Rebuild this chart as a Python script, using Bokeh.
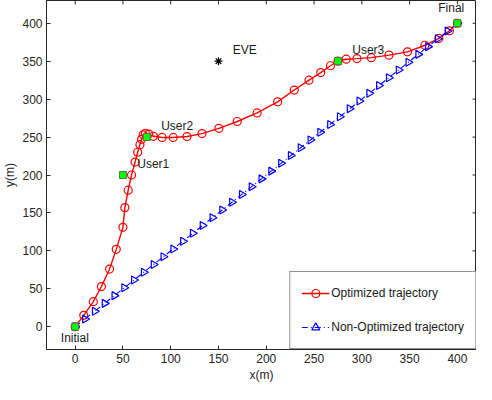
import math
from bokeh.plotting import figure
from bokeh.models import Legend, LegendItem, Range1d, ColumnDataSource, FixedTicker
from bokeh.core.properties import value
from bokeh.embed import file_html
from bokeh.resources import INLINE

# ---- data ----
opt_x = [0, 9, 19, 27.5, 36, 43, 50, 52, 55.5, 59, 62.7, 65.4, 67.8, 69.5, 71.2, 73.5, 77, 82,
         91, 102.6, 117, 132.7, 150.4, 169.6, 190.4, 211.9, 229.3, 244.7, 257, 267.2, 275,
         283.6, 294.9, 310, 328.4, 347.8, 366, 380.6, 391.6, 400]
opt_y = [0, 15, 33, 53, 76, 102, 131, 157, 180, 200, 217, 230, 240, 247, 253, 255, 254, 251,
         249.5, 249.5, 250.7, 254.6, 261.5, 270.5, 281.8, 296.4, 312, 325, 335, 344, 350,
         352.6, 353.4, 354.7, 358, 362.3, 371, 380, 390, 400]

non_x = [0, 10.3, 20.5, 30.8, 41.0, 51.3, 61.5, 71.8, 82.1, 92.3, 102.6, 112.8, 123.1, 133.3,
         143.6, 153.8, 164.1, 174.4, 184.6, 194.9, 205.1, 215.4, 225.6, 235.9, 246.2, 256.4,
         266.7, 276.9, 287.2, 297.4, 307.7, 317.9, 328.2, 338.5, 348.7, 359.0, 369.2, 379.5,
         389.7, 400.0]
non_y = list(non_x)

node_x = [0, 50, 75, 275, 400]
node_y = [0, 200, 250, 350, 400]

eve_x = [150]
eve_y = [350]

label_text = ["Initial", "User1", "User2", "User3", "Final", "EVE"]
label_x = [-15, 65, 90, 290, 380, 165]
label_y = [-15, 215, 265, 365, 420, 365]

ticks = [0, 50, 100, 150, 200, 250, 300, 350, 400]
x_lim = [-30, 420]
y_lim = [-30, 430]

FONT = "Liberation Sans"
AX = "#262626"
FS = "12px"

p = figure(width=476, height=384, output_backend="svg", toolbar_location=None,
           x_range=Range1d(*x_lim), y_range=Range1d(*y_lim),
           min_border_left=0, min_border_right=0, min_border_top=0, min_border_bottom=0,
           x_axis_label="x(m)", y_axis_label="y(m)")
p.grid.visible = False
p.outline_line_color = AX
p.outline_line_width = 1
p.background_fill_color = "white"
p.border_fill_color = "white"

for ax in list(p.xaxis) + list(p.yaxis):
    ax.ticker = FixedTicker(ticks=ticks)
    ax.major_tick_in = 4
    ax.major_tick_out = 0
    ax.minor_tick_line_color = None
    ax.axis_line_color = AX
    ax.major_tick_line_color = AX
    ax.major_label_text_font = FONT
    ax.axis_label_text_font = FONT
    ax.axis_label_text_font_style = "normal"
    ax.axis_label_text_color = AX
    ax.major_label_text_color = AX
    ax.axis_label_text_font_size = FS
    ax.major_label_text_font_size = FS
    ax.major_label_standoff = 4
    ax.axis_label_standoff = 2

# mirror ticks on top and right edges (box on)
tick_len_y = 4 / 0.77
tick_len_x = 4 / 0.97
n = len(ticks)
p.segment(x0=ticks, y0=[y_lim[1]] * n, x1=ticks, y1=[y_lim[1] - tick_len_y] * n,
          line_color=AX, line_width=1)
p.segment(x0=[x_lim[1]] * n, y0=ticks, x1=[x_lim[1] - tick_len_x] * n, y1=ticks,
          line_color=AX, line_width=1)

opt_src = ColumnDataSource(dict(x=opt_x, y=opt_y))
non_src = ColumnDataSource(dict(x=non_x, y=non_y))

r_line = p.line("x", "y", source=opt_src, line_color="#ff0000", line_width=1.4)
r_mark = p.scatter("x", "y", source=opt_src, marker="circle", size=8,
                   fill_color=None, line_color="#ff0000", line_width=1.2)

b_line = p.line("x", "y", source=non_src, line_color="#0000ff", line_width=1.1,
                line_dash="6 3 1 3")
b_mark = p.scatter("x", "y", source=non_src, marker="triangle", size=8, angle=-math.pi / 2,
                   fill_color=None, line_color="#0000ff", line_width=1.2)

p.scatter(node_x, node_y, marker="square", size=7, fill_color="#00ff00",
          line_color="#4a7a4a", line_width=1)
p.scatter(eve_x, eve_y, marker="asterisk", size=8, line_color="black", line_width=1.2)

p.text(x=label_x, y=label_y, text=label_text, text_font=value(FONT), text_font_size=FS,
       text_align="left", text_baseline="middle", text_color="#1a1a1a")

legend = Legend(items=[LegendItem(label="Optimized trajectory", renderers=[r_line, r_mark]),
                       LegendItem(label="Non-Optimized trajectory", renderers=[b_line, b_mark])],
                location="bottom_right", margin=0, padding=11, spacing=14,
                glyph_width=28, glyph_height=20, label_height=20, label_standoff=2,
                label_text_font=FONT, label_text_font_size=FS, label_text_color="#1a1a1a",
                border_line_color="#262626", border_line_width=1,
                background_fill_color="white", background_fill_alpha=1.0)
p.add_layout(legend, "center")

open("out.html", "w").write(file_html(p, INLINE))
